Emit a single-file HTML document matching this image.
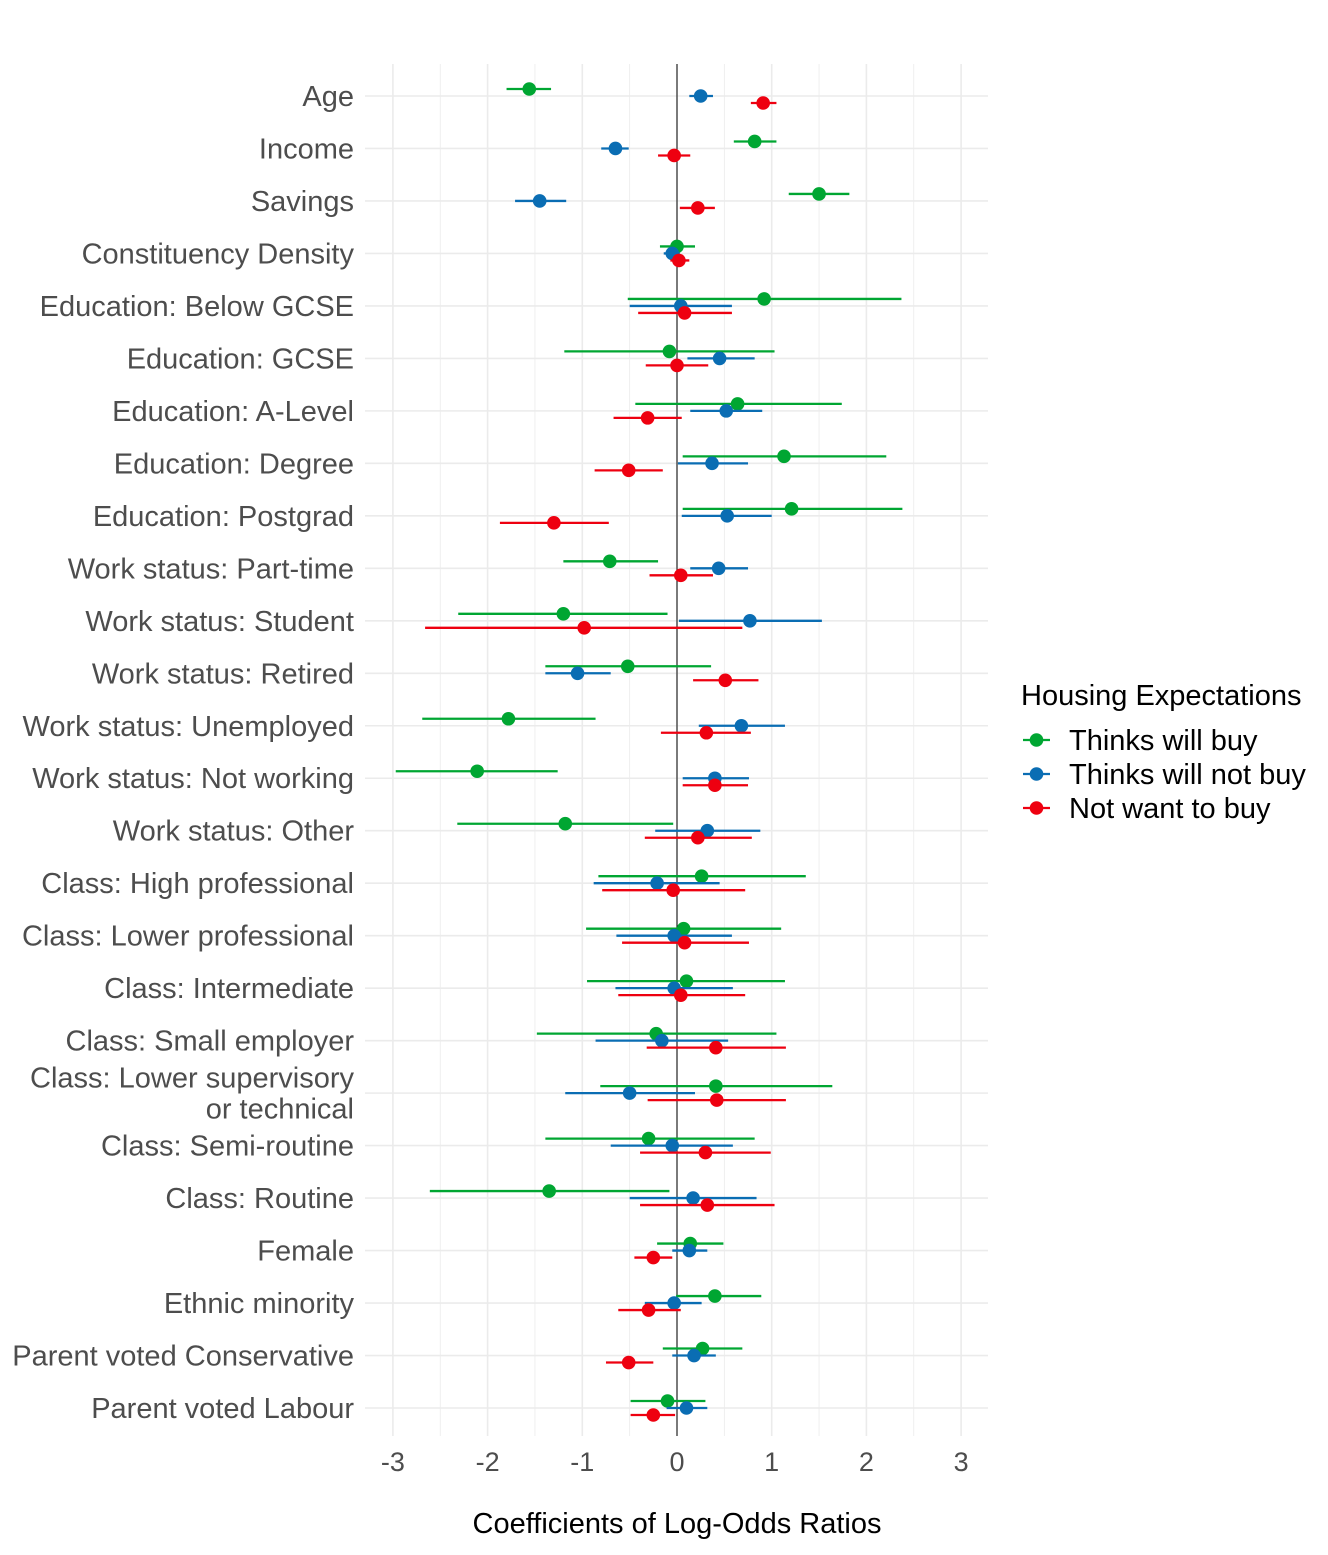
<!DOCTYPE html>
<html><head><meta charset="utf-8"><style>
body{margin:0;background:#fff;}
svg text{font-family:"Liberation Sans",Arial,sans-serif;}
</style></head><body>
<svg id="chart" width="1328" height="1550" xmlns="http://www.w3.org/2000/svg"></svg>
<script>
const categories=["Age","Income","Savings","Constituency Density","Education: Below GCSE","Education: GCSE","Education: A-Level","Education: Degree","Education: Postgrad","Work status: Part-time","Work status: Student","Work status: Retired","Work status: Unemployed","Work status: Not working","Work status: Other","Class: High professional","Class: Lower professional","Class: Intermediate","Class: Small employer","Class: Lower supervisory|or technical","Class: Semi-routine","Class: Routine","Female","Ethnic minority","Parent voted Conservative","Parent voted Labour"];
const seriesNames=["Thinks will buy","Thinks will not buy","Not want to buy"];
const buyEst=[-1.56,0.82,1.50,0.0,0.92,-0.08,0.64,1.13,1.21,-0.71,-1.20,-0.52,-1.78,-2.11,-1.18,0.26,0.07,0.10,-0.22,0.41,-0.30,-1.35,0.14,0.40,0.27,-0.10];
const buyLo=[-1.80,0.60,1.18,-0.18,-0.52,-1.19,-0.44,0.06,0.06,-1.20,-2.31,-1.39,-2.69,-2.97,-2.32,-0.83,-0.96,-0.95,-1.48,-0.81,-1.39,-2.61,-0.21,-0.01,-0.15,-0.49];
const buyHi=[-1.33,1.05,1.82,0.19,2.37,1.03,1.74,2.21,2.38,-0.20,-0.10,0.36,-0.86,-1.26,-0.04,1.36,1.10,1.14,1.05,1.64,0.82,-0.08,0.49,0.89,0.69,0.30];
const notBuyEst=[0.25,-0.65,-1.45,-0.05,0.04,0.45,0.52,0.37,0.53,0.44,0.77,-1.05,0.68,0.40,0.32,-0.21,-0.03,-0.03,-0.16,-0.50,-0.05,0.17,0.13,-0.03,0.18,0.10];
const notBuyLo=[0.13,-0.80,-1.71,-0.14,-0.50,0.11,0.14,0.01,0.05,0.14,0.02,-1.39,0.23,0.06,-0.23,-0.88,-0.64,-0.65,-0.86,-1.18,-0.70,-0.50,-0.05,-0.34,-0.05,-0.11];
const notBuyHi=[0.38,-0.51,-1.17,0.03,0.58,0.82,0.90,0.75,1.00,0.75,1.53,-0.70,1.14,0.76,0.88,0.45,0.58,0.59,0.54,0.19,0.59,0.84,0.32,0.26,0.41,0.32];
const notWantEst=[0.91,-0.03,0.22,0.02,0.08,0.0,-0.31,-0.51,-1.30,0.04,-0.98,0.51,0.31,0.40,0.22,-0.04,0.08,0.04,0.41,0.42,0.30,0.32,-0.25,-0.30,-0.51,-0.25];
const notWantLo=[0.78,-0.20,0.03,-0.07,-0.41,-0.33,-0.67,-0.87,-1.87,-0.29,-2.66,0.17,-0.17,0.06,-0.34,-0.79,-0.58,-0.62,-0.32,-0.31,-0.39,-0.39,-0.45,-0.62,-0.75,-0.49];
const notWantHi=[1.05,0.14,0.40,0.13,0.58,0.33,0.05,-0.15,-0.72,0.38,0.69,0.86,0.78,0.75,0.79,0.72,0.76,0.72,1.15,1.15,0.99,1.03,-0.05,0.04,-0.25,-0.02];
const xTicks=[-3,-2,-1,0,1,2,3];

const colors=["#00A632","#0A6DB3","#EE0010"];
const est=[buyEst,notBuyEst,notWantEst],lo=[buyLo,notBuyLo,notWantLo],hi=[buyHi,notBuyHi,notWantHi];
const NS="http://www.w3.org/2000/svg";
const svg=document.getElementById("chart");
const X=v=>677+v*94.7;
const Y=i=>96+i*52.48;
const dodge=[-7,0,7];
function mk(t,a,p){const e=document.createElementNS(NS,t);for(const k in a)e.setAttribute(k,a[k]);(p||svg).appendChild(e);return e;}
const L=365,R=988,T=64,B=1436;
for(let v=-3;v<=3;v+=0.5){
 const g=mk("line",{x1:X(v),x2:X(v),y1:T,y2:B,stroke:"#ebebeb","stroke-width":Number.isInteger(v)?1.6:0.8});
 
 
}
categories.forEach((c,i)=>{
 const g=mk("line",{x1:L,x2:R,y1:Y(i),y2:Y(i),stroke:"#ebebeb","stroke-width":1.6});
 
 
});
const z=mk("line",{x1:X(0),x2:X(0),y1:T,y2:B,stroke:"#000","stroke-width":1});


categories.forEach((c,i)=>{
 const parts=c.split("|");
 parts.forEach((p,j)=>{
  const t=mk("text",{x:354,y:Y(i)+10+(parts.length>1?(j-0.5)*31:0),"text-anchor":"end","font-size":29,fill:"#4d4d4d"});
  t.textContent=p;
  
  
 });
});
xTicks.forEach(v=>{
 const t=mk("text",{x:X(v),y:1471,"text-anchor":"middle","font-size":27,fill:"#4d4d4d"});
 t.textContent=v;
 
 
});
const at=mk("text",{x:677,y:1533,"text-anchor":"middle","font-size":29,fill:"#000"});
at.textContent="Coefficients of Log-Odds Ratios";


for(let s=0;s<3;s++){
 categories.forEach((c,i)=>{
  const y=Y(i)+dodge[s];
  const l=mk("line",{x1:X(lo[s][i]),x2:X(hi[s][i]),y1:y,y2:y,stroke:colors[s],"stroke-width":2.3});
  
  
  const p=mk("circle",{cx:X(est[s][i]),cy:y,r:6.8,fill:colors[s]});
  
  
 });
}
const lt=mk("text",{x:1021,y:705,"font-size":29,fill:"#000"});
lt.textContent="Housing Expectations";


seriesNames.forEach((n,k)=>{
 const y=740+k*34;
 const g=mk("g",{});
 
 
 mk("line",{x1:1023,x2:1050,y1:y,y2:y,stroke:colors[k],"stroke-width":2.3},g);
 mk("circle",{cx:1036.5,cy:y,r:6.8,fill:colors[k]},g);
 const t=mk("text",{x:1069,y:y+10,"font-size":29,fill:"#000"},g);
 t.textContent=n;
});
</script>
</body></html>
